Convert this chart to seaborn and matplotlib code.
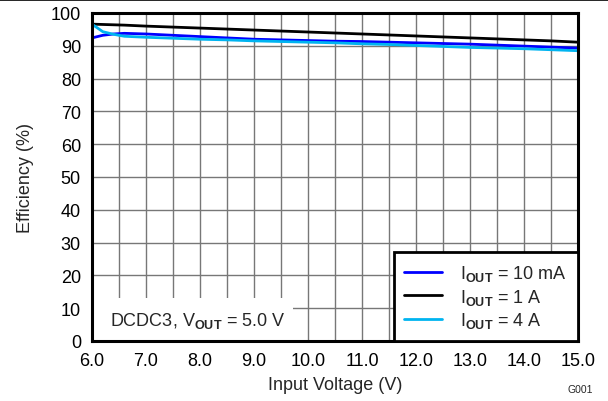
import matplotlib
matplotlib.use("Agg")
import matplotlib.pyplot as plt
import matplotlib.ticker as ticker
from matplotlib.lines import Line2D
from matplotlib.patches import Rectangle
import pandas as pd
import seaborn as sns

voltage = [6.0, 6.2, 6.4, 6.6, 7.0, 7.5, 8.0, 8.5, 9.0, 9.5, 10.0, 10.5,
           11.0, 11.5, 12.0, 12.5, 13.0, 13.5, 14.0, 14.5, 15.0]
eff_10ma = [92.4, 93.2, 93.6, 93.8, 93.6, 93.2, 92.8, 92.4, 92.0, 91.8, 91.6,
            91.4, 91.3, 91.1, 90.9, 90.7, 90.5, 90.2, 89.9, 89.6, 89.3]
eff_1a = [96.6, 96.5, 96.4, 96.3, 96.0, 95.7, 95.4, 95.1, 94.8, 94.5, 94.2,
          93.9, 93.6, 93.3, 93.0, 92.7, 92.4, 92.1, 91.8, 91.5, 91.1]
eff_4a = [96.6, 94.3, 93.5, 92.9, 92.6, 92.3, 92.0, 91.8, 91.5, 91.3, 91.1,
          90.9, 90.6, 90.4, 90.1, 89.8, 89.5, 89.3, 89.1, 88.8, 88.5]

labels = [r"I$_{\mathbf{OUT}}$ = 10 mA", r"I$_{\mathbf{OUT}}$ = 1 A", r"I$_{\mathbf{OUT}}$ = 4 A"]
colors = ["#0000ff", "#000000", "#00b4f0"]

df = pd.concat(
    [
        pd.DataFrame({"v": voltage, "eff": e, "kind": lab})
        for e, lab in zip([eff_10ma, eff_1a, eff_4a], labels)
    ]
)

sns.set_style("white")
plt.rcParams["font.family"] = ["Liberation Sans", "DejaVu Sans"]
plt.rcParams["mathtext.fontset"] = "custom"
plt.rcParams["mathtext.rm"] = "Liberation Sans"
plt.rcParams["mathtext.it"] = "Liberation Sans:italic"
plt.rcParams["mathtext.bf"] = "Liberation Sans:bold"

FS = 13

fig = plt.figure(figsize=(6.08, 4.02), dpi=100)
ax = fig.add_axes([0.1513, 0.1493, 0.7993, 0.8159])

sns.lineplot(
    data=df, x="v", y="eff", hue="kind", hue_order=labels,
    palette=dict(zip(labels, colors)), lw=2.0, ax=ax, sort=False,
)

ax.set_xlim(6, 15)
ax.set_ylim(0, 100)
ax.xaxis.set_major_locator(ticker.MultipleLocator(1))
ax.xaxis.set_minor_locator(ticker.MultipleLocator(0.5))
ax.xaxis.set_major_formatter(ticker.FormatStrFormatter("%.1f"))
ax.yaxis.set_major_locator(ticker.MultipleLocator(10))
ax.tick_params(which="both", length=0, labelsize=FS, colors="black")
ax.tick_params(axis="y", pad=8)
ax.tick_params(axis="x", pad=8)
ax.set_axisbelow(True)
ax.grid(which="both", color="#777777", linewidth=1.0)

for s in ax.spines.values():
    s.set_linewidth(2.2)
    s.set_color("black")

ax.set_xlabel("Input Voltage (V)", fontsize=FS, labelpad=5)
ax.set_ylabel("Efficiency (%)", fontsize=FS, labelpad=12)

# white patch behind the condition note
ax.add_patch(Rectangle((0, 0), 0.414, 0.131, transform=ax.transAxes,
                       facecolor="white", edgecolor="none", zorder=1.5))
ax.text(0.037, 0.065, r"DCDC3, V$_{\mathbf{OUT}}$ = 5.0 V", transform=ax.transAxes,
        fontsize=FS, va="center", ha="left", zorder=3)

leg = ax.legend(loc="lower right", borderaxespad=0, fontsize=FS, fancybox=False,
                handlelength=2.1, handletextpad=1.0, labelspacing=0.2,
                borderpad=0.6, framealpha=1)
leg.get_frame().set_edgecolor("black")
leg.get_frame().set_linewidth(2.0)
for h in leg.get_lines():
    h.set_linewidth(2.0)

fig.text(0.975, 0.03, "G001", fontsize=7.5, ha="right", va="center")
fig.add_artist(Line2D([0, 1], [0.9975, 0.9975], transform=fig.transFigure,
                      color="black", lw=1.2))

fig.savefig("out.png", dpi=100)
